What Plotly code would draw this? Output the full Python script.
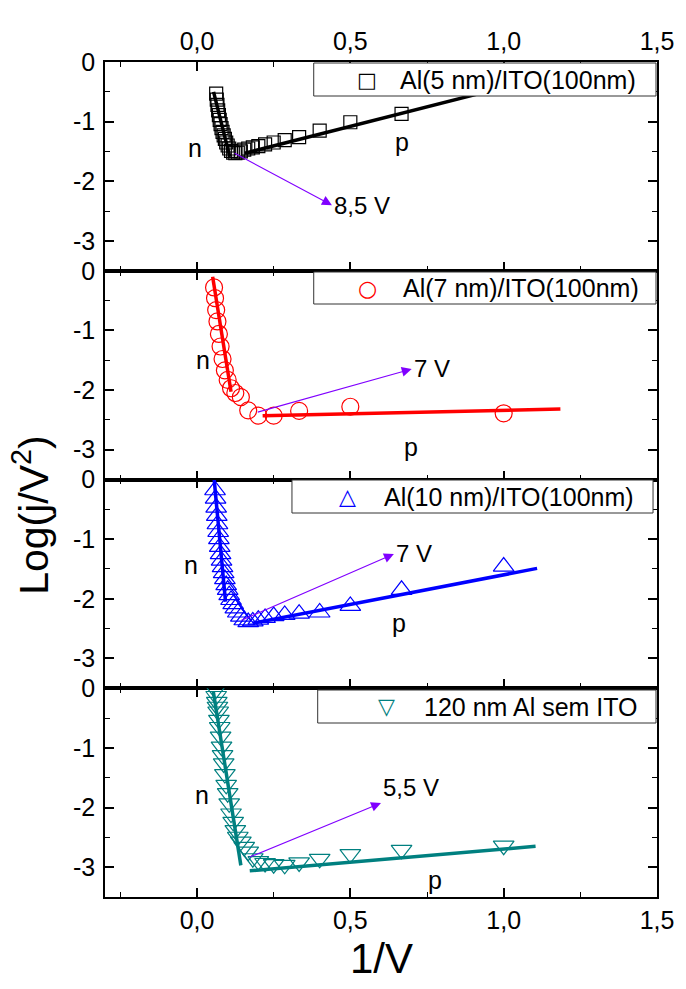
import plotly.graph_objects as go
from plotly.subplots import make_subplots

# ---------------- data (x = 1/V, y = Log(j/V^2)) ----------------
x1 = [0.0625, 0.0645, 0.0667, 0.069, 0.0714, 0.0741, 0.0769, 0.08, 0.0833, 0.087,
      0.0909, 0.0952, 0.1, 0.105, 0.111, 0.118, 0.125, 0.133, 0.143, 0.154,
      0.167, 0.182, 0.2, 0.222, 0.25, 0.286, 0.333, 0.4, 0.5, 0.667]
y1 = [-0.53, -0.63, -0.72, -0.81, -0.89, -0.97, -1.04, -1.11, -1.17, -1.23,
      -1.29, -1.35, -1.40, -1.45, -1.49, -1.52, -1.53, -1.52, -1.50, -1.47,
      -1.45, -1.43, -1.41, -1.38, -1.35, -1.31, -1.26, -1.15, -1.01, -0.87]

x2 = [0.0556, 0.0588, 0.0625, 0.0667, 0.0714, 0.0769, 0.0833, 0.0909, 0.1, 0.111,
      0.125, 0.143, 0.167, 0.2, 0.25, 0.333, 0.5, 1.0]
y2 = [-0.28, -0.46, -0.66, -0.85, -1.06, -1.27, -1.48, -1.67, -1.83, -1.97,
      -2.05, -2.12, -2.34, -2.43, -2.43, -2.35, -2.28, -2.39]

x3 = [0.0588, 0.0606, 0.0625, 0.0645, 0.0667, 0.069, 0.0714, 0.0741, 0.0769, 0.08,
      0.0833, 0.087, 0.0909, 0.0952, 0.1, 0.105, 0.111, 0.118, 0.125, 0.133,
      0.143, 0.154, 0.167, 0.182, 0.2, 0.222, 0.25, 0.286, 0.333, 0.4,
      0.5, 0.667, 1.0]
y3 = [-0.18, -0.32, -0.47, -0.61, -0.75, -0.88, -1.00, -1.13, -1.25, -1.36,
      -1.47, -1.57, -1.67, -1.77, -1.85, -1.94, -2.02, -2.09, -2.16, -2.23,
      -2.30, -2.36, -2.39, -2.38, -2.35, -2.32, -2.29, -2.27, -2.25, -2.23,
      -2.12, -1.85, -1.46]

x4 = [0.0606, 0.0625, 0.0645, 0.0667, 0.069, 0.0714, 0.0741, 0.0769, 0.08, 0.0833,
      0.087, 0.0909, 0.0952, 0.1, 0.105, 0.111, 0.118, 0.125, 0.133, 0.143,
      0.154, 0.167, 0.182, 0.2, 0.222, 0.25, 0.286, 0.333, 0.4, 0.5,
      0.667, 1.0]
y4 = [-0.03, -0.13, -0.23, -0.31, -0.39, -0.53, -0.65, -0.81, -0.98, -1.12,
      -1.26, -1.44, -1.62, -1.76, -1.93, -2.10, -2.24, -2.38, -2.49, -2.57,
      -2.66, -2.74, -2.85, -2.90, -2.93, -2.95, -2.96, -2.92, -2.86, -2.78,
      -2.71, -2.64]

names = ["Al(5 nm)/ITO(100nm)", "Al(7 nm)/ITO(100nm)",
         "Al(10 nm)/ITO(100nm)", "120 nm Al sem ITO"]
legend_glyphs = ["\u25A1", "\u25CB", "\u25B3", "\u25BD"]

# linear fits: (x_start, x_end), (y_start, y_end)
fit_n_x = [[0.054, 0.107], [0.051, 0.111], [0.056, 0.093], [0.053, 0.143]]
fit_n_y = [[-0.50, -1.59], [-0.10, -2.03], [0.0, -2.05], [-0.05, -2.97]]
fit_p_x = [[0.156, 1.18], [0.214, 1.185], [0.182, 1.109], [0.172, 1.104]]
fit_p_y = [[-1.53, -0.19], [-2.43, -2.32], [-2.41, -1.49], [-3.06, -2.65]]

# threshold arrows: start point (x, y) on the curve -> label anchor (x, y)
arrow_tail = [(0.123, -1.53), (0.198, -2.37), (0.145, -2.36), (0.172, -2.83)]
arrow_label = ["8,5 V", "7 V", "7 V", "5,5 V"]
arrow_label_pos = [(0.440, -2.40), (0.700, -1.647), (0.642, -1.249), (0.600, -1.924)]
arrow_label_yanchor = ["middle", "middle", "middle", "bottom"]

n_pos = [(-0.005, -1.44), (0.019, -1.50), (-0.021, -1.43), (0.016, -1.79)]
p_pos = [(0.67, -1.34), (0.697, -2.96), (0.658, -2.40), (0.777, -3.22)]

colors = ["#000000", "#FF0000", "#0000FF", "#008080"]
symbols = ["square-open", "circle-open", "triangle-up-open", "triangle-down-open"]
msizes = [13, 17, 18, 18]

xs = [x1, x2, x3, x4]
ys = [y1, y2, y3, y4]

FONT = "Liberation Sans, Arial, sans-serif"

fig = make_subplots(rows=4, cols=1, shared_xaxes=True, vertical_spacing=0)

# plot area in px
PL, PT, PW, PH = 105, 62, 558, 835


def px_x(p):
    return (p - PL) / PW


def px_y(p):
    return 1 - (p - PT) / PH


# legend boxes in px: left, right, top, bottom, symbol centre x, text left x
leg_box = [(316, 662, 63, 96, 370, 402),
           (316, 662, 272, 304, 370, 405),
           (294, 659, 480, 513, 350, 386),
           (320, 662, 690, 723, 390, 426)]
glyph_size = [21, 22, 22, 22]

for i in range(4):
    r = i + 1
    fig.add_trace(go.Scatter(
        x=xs[i], y=ys[i], mode="markers", name=names[i], showlegend=False,
        marker=dict(symbol=symbols[i], size=msizes[i], color=colors[i],
                    line=dict(width=1.2, color=colors[i])),
    ), row=r, col=1)
    fig.add_trace(go.Scatter(x=fit_n_x[i], y=fit_n_y[i], mode="lines",
                             line=dict(color=colors[i], width=3.5),
                             showlegend=False, hoverinfo="skip"), row=r, col=1)
    fig.add_trace(go.Scatter(x=fit_p_x[i], y=fit_p_y[i], mode="lines",
                             line=dict(color=colors[i], width=3.5),
                             showlegend=False, hoverinfo="skip"), row=r, col=1)

    xr = "x" if i == 0 else f"x{r}"
    yr = "y" if i == 0 else f"y{r}"
    # arrow from the curve to the label, head drawn at the label side
    fig.add_annotation(x=arrow_tail[i][0], y=arrow_tail[i][1],
                       ax=arrow_label_pos[i][0], ay=arrow_label_pos[i][1],
                       xref=xr, yref=yr, axref=xr, ayref=yr,
                       text=arrow_label[i], xanchor="left",
                       yanchor=arrow_label_yanchor[i],
                       showarrow=True, arrowside="start", arrowhead=2,
                       startarrowhead=2, startarrowsize=1.8,
                       arrowsize=1.8, arrowwidth=1.1,
                       arrowcolor="#8000FF", standoff=0, startstandoff=0,
                       font=dict(size=24, color="black", family=FONT))
    fig.add_annotation(x=n_pos[i][0], y=n_pos[i][1], xref=xr, yref=yr, text="n",
                       showarrow=False, font=dict(size=25, color="black", family=FONT))
    fig.add_annotation(x=p_pos[i][0], y=p_pos[i][1], xref=xr, yref=yr, text="p",
                       showarrow=False, font=dict(size=25, color="black", family=FONT))

    # legend box for this panel
    L, R, T, B, sx, tx = leg_box[i]
    fig.add_shape(type="rect", xref="paper", yref="paper",
                  x0=px_x(L), x1=px_x(R), y0=px_y(B), y1=px_y(T),
                  fillcolor="white", line=dict(color="#333333", width=1), layer="above")
    fig.add_annotation(x=px_x(sx), y=px_y((T + B) / 2), xref="paper", yref="paper",
                       text=legend_glyphs[i], showarrow=False, xanchor="center",
                       yanchor="middle",
                       font=dict(size=glyph_size[i], color=colors[i],
                                 family="DejaVu Sans"))
    fig.add_annotation(x=px_x(tx), y=px_y((T + B) / 2), xref="paper", yref="paper",
                       text=names[i], showarrow=False, xanchor="left", yanchor="middle",
                       borderpad=0,
                       font=dict(size=25, color="black", family=FONT))

axis_common = dict(
    showline=True, linecolor="black", linewidth=1.6, mirror="allticks",
    ticks="inside", ticklen=9, tickwidth=1.6, tickcolor="black",
    showgrid=False, zeroline=False,
    tickfont=dict(size=25, color="black", family=FONT),
)

fig.update_xaxes(range=[-0.3, 1.5], tick0=0, dtick=0.5, tickformat=".1f",
                 minor=dict(dtick=0.25, tick0=0, ticks="inside", ticklen=5,
                            tickwidth=1.4, tickcolor="black"),
                 **axis_common)
fig.update_yaxes(range=[-3.5, 0], tickvals=[0, -1, -2, -3],
                 ticktext=["0", "-1", "-2", "-3"], ticklabelstandoff=3,
                 minor=dict(dtick=0.5, tick0=0, ticks="inside", ticklen=5,
                            tickwidth=1.4, tickcolor="black"),
                 **axis_common)
fig.update_xaxes(side="top", showticklabels=True, row=1, col=1)
fig.update_xaxes(showticklabels=True, row=4, col=1)

fig.add_annotation(x=px_x(30), y=px_y(515), xref="paper", yref="paper",
                   text="Log(j/V<sup>2</sup>)", textangle=-90, showarrow=False,
                   xanchor="center", yanchor="middle",
                   font=dict(size=41, color="black", family=FONT))
fig.add_annotation(x=px_x(385), y=px_y(958), xref="paper", yref="paper",
                   text="1/V", showarrow=False, xanchor="center", yanchor="middle",
                   font=dict(size=42, color="black", family=FONT))

fig.update_layout(
    width=686, height=989,
    margin=dict(l=PL, r=686 - PL - PW, t=PT, b=989 - PT - PH),
    plot_bgcolor="white", paper_bgcolor="white",
    separators=",.",
    font=dict(family=FONT, color="black"),
    showlegend=False,
)

fig.write_html("out.html")
